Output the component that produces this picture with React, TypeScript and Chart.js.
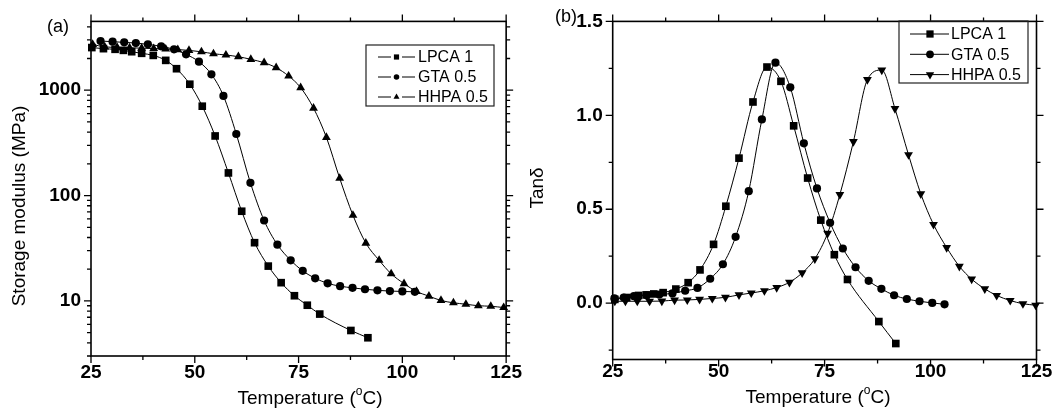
import React, { useEffect, useRef } from 'react';
import { Chart, registerables } from 'chart.js';
import { drawPoint } from 'chart.js/helpers';

Chart.register(...registerables);

const FONT = "'Liberation Sans', Arial, Helvetica, sans-serif";

// ---------- tick labels ----------
const tempTicks = [25, 50, 75, 100, 125];
const modulusTicks = [10, 100, 1000];
const tanTicks = [0, 0.5, 1.0, 1.5];

const seriesNames = ['LPCA 1', 'GTA 0.5', 'HHPA 0.5'];

// ---------- panel (a): storage modulus (MPa) ----------
const lpcaModTemp = [25.2, 28.0, 30.8, 32.8, 34.8, 37.2, 40.0, 43.0, 45.6, 48.8, 51.8, 54.9, 58.1, 61.3, 64.4, 67.7, 70.8, 74.0, 77.1, 80.1, 87.6, 91.7];
const lpcaModulus = [2540, 2480, 2445, 2390, 2320, 2240, 2140, 1920, 1600, 1140, 705, 368, 164, 71, 35.7, 21.4, 14.9, 11.2, 9.1, 7.5, 5.24, 4.47];

const gtaModTemp = [27.3, 30.2, 33.0, 35.8, 38.7, 41.9, 45.0, 47.9, 51.0, 54.0, 56.9, 60.0, 63.4, 66.7, 69.9, 73.1, 76.0, 79.0, 82.0, 85.0, 88.0, 91.0, 94.0, 97.0, 100.0, 103.0];
const gtaModulus = [2930, 2890, 2846, 2805, 2725, 2608, 2443, 2190, 1865, 1416, 883, 384, 132, 58, 34.2, 24.3, 19.3, 16.4, 14.7, 13.8, 13.3, 12.9, 12.6, 12.4, 12.3, 12.2];

const hhpaModTemp = [25.4, 28.3, 31.3, 34.3, 37.2, 40.1, 43.0, 45.9, 48.6, 51.6, 54.5, 57.5, 60.5, 63.5, 66.7, 69.6, 72.6, 75.5, 78.6, 81.7, 84.9, 88.1, 91.2, 94.4, 97.3, 100.4, 103.4, 106.4, 109.3, 112.3, 115.3, 118.3, 121.3, 124.4];
const hhpaModulus = [2720, 2580, 2550, 2530, 2505, 2485, 2460, 2430, 2389, 2316, 2218, 2158, 2080, 1964, 1824, 1636, 1365, 1058, 676, 357, 146, 65, 35.4, 24.3, 18.1, 14.6, 12.3, 11.1, 10.1, 9.6, 9.3, 9.0, 8.9, 8.65];

// ---------- panel (b): tan delta ----------
const lpcaTanTemp = [25.5, 28.3, 31.1, 32.9, 34.7, 36.9, 39.9, 42.8, 45.6, 48.8, 51.7, 54.8, 58.1, 61.4, 64.7, 67.7, 71.0, 74.1, 77.3, 80.4, 87.8, 91.8];
const lpcaTan = [0.020, 0.030, 0.041, 0.044, 0.049, 0.056, 0.075, 0.109, 0.177, 0.313, 0.516, 0.772, 1.071, 1.257, 1.181, 0.944, 0.666, 0.442, 0.258, 0.126, -0.098, -0.215];

const gtaTanTemp = [25.4, 27.6, 30.0, 33.0, 36.0, 39.1, 42.1, 45.0, 48.0, 51.0, 54.0, 57.1, 60.2, 63.4, 66.9, 70.1, 73.2, 76.3, 79.3, 82.3, 85.4, 88.4, 91.4, 94.4, 97.4, 100.4, 103.3];
const gtaTan = [0.025, 0.030, 0.037, 0.042, 0.046, 0.052, 0.066, 0.081, 0.130, 0.207, 0.353, 0.596, 0.978, 1.280, 1.149, 0.851, 0.611, 0.428, 0.291, 0.191, 0.119, 0.076, 0.042, 0.022, 0.010, 0.001, -0.006];

const hhpaTanTemp = [25.5, 28.0, 30.8, 33.7, 36.6, 39.6, 42.6, 45.5, 48.5, 51.6, 54.8, 57.7, 60.8, 63.7, 66.7, 69.7, 72.7, 75.7, 78.6, 81.8, 85.1, 88.5, 91.6, 94.8, 97.7, 100.7, 103.8, 106.8, 109.7, 112.8, 115.6, 118.8, 121.8, 124.8];
const hhpaTan = [0.010, 0.010, 0.010, 0.010, 0.011, 0.016, 0.017, 0.020, 0.025, 0.031, 0.044, 0.054, 0.066, 0.083, 0.111, 0.161, 0.236, 0.372, 0.578, 0.860, 1.190, 1.241, 1.036, 0.790, 0.582, 0.419, 0.296, 0.196, 0.128, 0.076, 0.041, 0.014, -0.003, -0.011];

// ---------- helpers ----------
const pts = (xs: number[], ys: number[]) => xs.map((x, i) => ({ x, y: ys[i] }));

function makeDataset(label: string, data: any[], style: string, radius: number, rotation: number) {
  return {
    label,
    data,
    borderColor: '#000',
    backgroundColor: '#000',
    borderWidth: 1,
    pointStyle: style,
    pointRadius: radius,
    pointRotation: rotation,
    pointBackgroundColor: '#000',
    pointBorderColor: '#000',
    pointBorderWidth: 0,
    cubicInterpolationMode: 'monotone',
    fill: false,
    clip: false,
  };
}

const tempMinor = tempTicks.slice(0, -1).map((v, i) => (v + tempTicks[i + 1]) / 2);
const logMinor: number[] = [];
[1, 10, 100, 1000].forEach((d) => {
  for (let m = 2; m <= 9; m++) logMinor.push(d * m);
});
const tanMinor = tanTicks.map((v) => v - 0.25);

const frameTicksPlugin = {
  id: 'frameTicks',
  afterDatasetsDraw(chart: any, _args: any, opts: any) {
    const { ctx, chartArea } = chart;
    const { left, right, top, bottom } = chartArea;
    const xs = chart.scales.x;
    const ys = chart.scales.y;
    ctx.save();
    ctx.strokeStyle = '#000';
    ctx.lineWidth = 1.6;
    ctx.strokeRect(left, top, right - left, bottom - top);
    ctx.lineWidth = 1.3;
    const drawX = (vals: number[], len: number) => {
      vals.forEach((v) => {
        if (v < xs.min || v > xs.max) return;
        const p = xs.getPixelForValue(v);
        ctx.beginPath();
        ctx.moveTo(p, bottom);
        ctx.lineTo(p, bottom + len);
        ctx.moveTo(p, top);
        ctx.lineTo(p, top - len);
        ctx.stroke();
      });
    };
    const drawY = (vals: number[], len: number) => {
      vals.forEach((v) => {
        if (v < ys.min || v > ys.max) return;
        const p = ys.getPixelForValue(v);
        ctx.beginPath();
        ctx.moveTo(left, p);
        ctx.lineTo(left - len, p);
        ctx.moveTo(right, p);
        ctx.lineTo(right + len, p);
        ctx.stroke();
      });
    };
    drawX(opts.xMajor, 7);
    drawX(opts.xMinor, 4);
    drawY(opts.yMajor, 7);
    drawY(opts.yMinor, 4);
    ctx.restore();
  },
};

const textPlugin = {
  id: 'texts',
  afterDraw(chart: any, _args: any, opts: any) {
    const ctx = chart.ctx;
    (opts.items || []).forEach((item: any) => {
      ctx.save();
      ctx.translate(item.x, item.y);
      if (item.rotate) ctx.rotate(item.rotate);
      ctx.fillStyle = '#000';
      ctx.textBaseline = 'middle';
      ctx.textAlign = 'left';
      const size = item.size;
      const parts: any[] = item.parts;
      const widths = parts.map((p) => {
        ctx.font = `${p.bold ? 'bold ' : ''}${p.sup ? Math.round(size * 0.62) : size}px ${FONT}`;
        return ctx.measureText(p.t).width;
      });
      const total = widths.reduce((a, b) => a + b, 0);
      let cx = -total / 2;
      parts.forEach((p, i) => {
        ctx.font = `${p.bold ? 'bold ' : ''}${p.sup ? Math.round(size * 0.62) : size}px ${FONT}`;
        ctx.fillText(p.t, cx, p.sup ? -size * 0.38 : 0);
        cx += widths[i];
      });
      ctx.restore();
    });
  },
};

const boxLegendPlugin = {
  id: 'boxLegend',
  afterDraw(chart: any, _args: any, opts: any) {
    const { ctx } = chart;
    ctx.save();
    ctx.strokeStyle = '#222';
    ctx.lineWidth = 1.2;
    ctx.strokeRect(opts.x, opts.y, opts.w, opts.h);
    chart.data.datasets.forEach((ds: any, i: number) => {
      const cy = opts.firstY + i * opts.rowH;
      ctx.strokeStyle = '#000';
      ctx.lineWidth = 1;
      opts.segments.forEach((s: number[]) => {
        ctx.beginPath();
        ctx.moveTo(s[0], cy);
        ctx.lineTo(s[1], cy);
        ctx.stroke();
      });
      ctx.fillStyle = '#000';
      drawPoint(ctx, {
        pointStyle: ds.pointStyle,
        rotation: ds.pointRotation,
        radius: ds.pointRadius * opts.markerScale,
        borderWidth: 0,
      } as any, opts.markerX, cy);
      ctx.font = `${opts.fontSize}px ${FONT}`;
      ctx.textBaseline = 'middle';
      ctx.textAlign = 'left';
      ctx.fillText(ds.label, opts.textX, cy + 1);
    });
    ctx.restore();
  },
};

const tickFont = { family: FONT, size: 19, weight: 'bold' as const };

function tempTitle(x: number, y: number) {
  return {
    x, y, size: 19,
    parts: [{ t: 'Temperature (' }, { t: 'o', sup: true }, { t: 'C)' }],
  };
}

function buildConfigA(): any {
  return {
    type: 'line',
    data: {
      datasets: [
        makeDataset(seriesNames[0], pts(lpcaModTemp, lpcaModulus), 'rect', 5.4, 0),
        makeDataset(seriesNames[1], pts(gtaModTemp, gtaModulus), 'circle', 4.1, 0),
        makeDataset(seriesNames[2], pts(hhpaModTemp, hhpaModulus), 'triangle', 5.1, 0),
      ],
    },
    options: {
      animation: false,
      responsive: false,
      maintainAspectRatio: false,
      layout: { padding: { left: 0, right: 16, top: 20, bottom: 0 } },
      plugins: {
        legend: { display: false },
        tooltip: { enabled: false },
        frameTicks: { xMajor: tempTicks, xMinor: tempMinor, yMajor: modulusTicks, yMinor: logMinor },
        boxLegend: {
          x: 366, y: 45, w: 128, h: 61, firstY: 57, rowH: 20,
          segments: [[378, 391], [402, 415]], markerX: 396.5, markerScale: 0.68,
          textX: 418, fontSize: 16,
        },
        texts: {
          items: [
            { x: 58, y: 27, size: 18, parts: [{ t: '(a)' }] },
            { x: 20, y: 206, size: 19, rotate: -Math.PI / 2, parts: [{ t: 'Storage modulus (MPa)' }] },
            tempTitle(310, 399),
          ],
        },
      },
      scales: {
        x: {
          type: 'linear', min: 25, max: 125,
          afterBuildTicks: (s: any) => { s.ticks = tempTicks.map((v) => ({ value: v })); },
          afterFit: (s: any) => { s.height = 63; },
          grid: { display: false, drawTicks: false },
          border: { display: false },
          ticks: { padding: 5, color: '#000', font: tickFont, autoSkip: false, maxRotation: 0, callback: (v: any) => String(v) },
        },
        y: {
          type: 'logarithmic', min: 3, max: 4500,
          afterBuildTicks: (s: any) => { s.ticks = modulusTicks.map((v) => ({ value: v })); },
          afterFit: (s: any) => { s.width = 91; },
          grid: { display: false, drawTicks: false },
          border: { display: false },
          ticks: { padding: 10, color: '#000', font: tickFont, autoSkip: false, callback: (v: any) => String(v) },
        },
      },
    },
    plugins: [frameTicksPlugin, boxLegendPlugin, textPlugin],
  };
}

function buildConfigB(): any {
  return {
    type: 'line',
    data: {
      datasets: [
        makeDataset(seriesNames[0], pts(lpcaTanTemp, lpcaTan), 'rect', 5.4, 0),
        makeDataset(seriesNames[1], pts(gtaTanTemp, gtaTan), 'circle', 4.1, 0),
        makeDataset(seriesNames[2], pts(hhpaTanTemp, hhpaTan), 'triangle', 5.1, 180),
      ],
    },
    options: {
      animation: false,
      responsive: false,
      maintainAspectRatio: false,
      layout: { padding: { left: 0, right: 17.5, top: 18.7, bottom: 0 } },
      plugins: {
        legend: { display: false },
        tooltip: { enabled: false },
        frameTicks: { xMajor: tempTicks, xMinor: tempMinor, yMajor: tanTicks, yMinor: tanMinor },
        boxLegend: {
          x: 372, y: 21, w: 129, h: 62, firstY: 34, rowH: 20.3,
          segments: [[383, 422]], markerX: 403, markerScale: 0.95,
          textX: 424, fontSize: 16,
        },
        texts: {
          items: [
            { x: 39, y: 17, size: 18, parts: [{ t: '(b)' }] },
            { x: 11, y: 188, size: 19, rotate: -Math.PI / 2, parts: [{ t: 'Tanδ' }] },
            tempTitle(291, 398),
          ],
        },
      },
      scales: {
        x: {
          type: 'linear', min: 25, max: 125,
          afterBuildTicks: (s: any) => { s.ticks = tempTicks.map((v) => ({ value: v })); },
          afterFit: (s: any) => { s.height = 59.5; },
          grid: { display: false, drawTicks: false },
          border: { display: false },
          ticks: { padding: 1, color: '#000', font: tickFont, autoSkip: false, maxRotation: 0, callback: (v: any) => String(v) },
        },
        y: {
          type: 'linear', min: -0.3, max: 1.5,
          afterBuildTicks: (s: any) => { s.ticks = tanTicks.map((v) => ({ value: v })); },
          afterFit: (s: any) => { s.width = 85.7; },
          grid: { display: false, drawTicks: false },
          border: { display: false },
          ticks: { padding: 10, color: '#000', font: tickFont, autoSkip: false, callback: (v: any) => Number(v).toFixed(1) },
        },
      },
    },
    plugins: [frameTicksPlugin, boxLegendPlugin, textPlugin],
  };
}

export default function App() {
  const refA = useRef<HTMLCanvasElement>(null);
  const refB = useRef<HTMLCanvasElement>(null);
  useEffect(() => {
    document.body.style.margin = '0';
    const a = new Chart(refA.current as HTMLCanvasElement, buildConfigA());
    const b = new Chart(refB.current as HTMLCanvasElement, buildConfigB());
    return () => {
      a.destroy();
      b.destroy();
    };
  }, []);
  return (
    <div style={{ position: 'relative', width: 1054, height: 419, background: '#fff' }}>
      <canvas ref={refA} width={527} height={419} style={{ position: 'absolute', left: 0, top: 0 }} />
      <canvas ref={refB} width={527} height={419} style={{ position: 'absolute', left: 527, top: 0 }} />
    </div>
  );
}
